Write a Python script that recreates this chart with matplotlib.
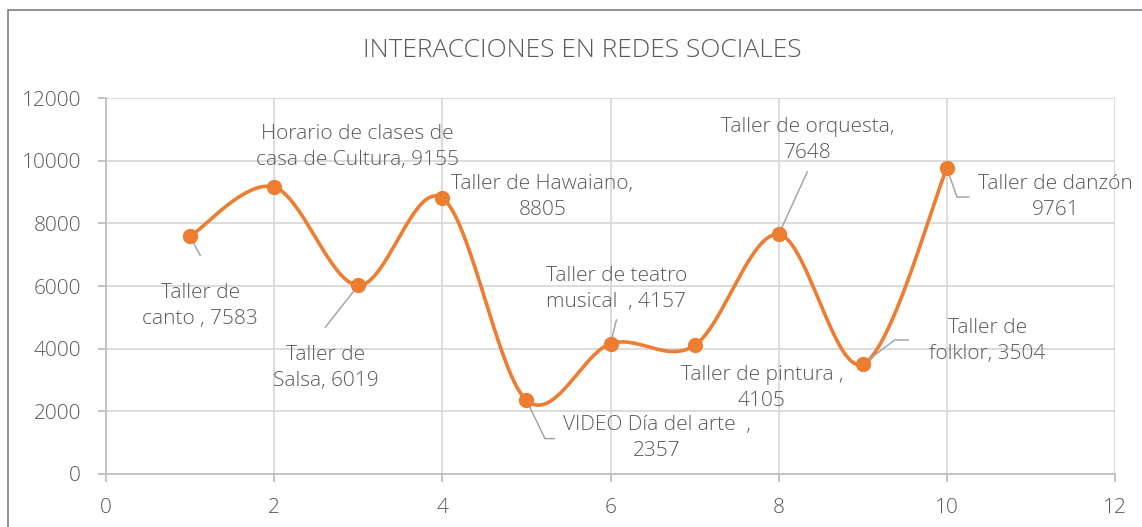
"""
INTERACCIONES EN REDES SOCIALES - Excel-style smoothed scatter with data labels.
"""

import matplotlib.pyplot as plt
import numpy as np
from matplotlib.patches import Rectangle

# data
x_vals = [1, 2, 3, 4, 5, 6, 7, 8, 9, 10]
interacciones = [7583, 9155, 6019, 8805, 2357, 4157, 4105, 7648, 3504, 9761]
etiquetas = [
    "Taller de\ncanto , 7583",
    "Horario de clases de\ncasa de Cultura, 9155",
    "Taller de\nSalsa, 6019",
    "Taller de Hawaiano,\n8805",
    "VIDEO Día del arte  ,\n2357",
    "Taller de teatro\nmusical  , 4157",
    "Taller de pintura ,\n4105",
    "Taller de orquesta,\n7648",
    "Taller de\nfolklor, 3504",
    "Taller de danzón\n9761",
]

# label centres (data coords) and leader-line bends
label_pos = [(1.12, 5360), (2.99, 10440), (2.61, 3380), (5.19, 8840), (6.55, 1150),
             (6.07, 5900), (7.80, 2745), (8.34, 10660), (10.48, 4245), (11.29, 8840)]
leaders = {
    0: [(1.12, 6980)],
    2: [(2.61, 4690)],
    4: [(5.22, 1130), (5.33, 1130)],
    5: [(6.07, 4915)],
    7: [(8.34, 9640)],
    8: [(9.38, 4277), (9.54, 4277)],
    9: [(10.12, 8840), (10.26, 8840)],
}

ORANGE = "#ED7D31"
TXT = "#595959"
GRID = "#d9d9d9"
FONT = ["Open Sans", "DejaVu Sans"]

plt.rcParams["font.family"] = FONT
plt.rcParams["font.weight"] = 300


def smooth(xs, ys, n=40):
    """Catmull-Rom style curve through the points (like Excel's smoothed line)."""
    xs = np.asarray(xs, float)
    ys = np.asarray(ys, float)
    px = np.concatenate([[xs[0]], xs, [xs[-1]]])
    py = np.concatenate([[ys[0]], ys, [ys[-1]]])
    out_x, out_y = [], []
    t = np.linspace(0, 1, n)
    for i in range(1, len(px) - 2):
        p0, p1, p2, p3 = (np.array([px[j], py[j]]) for j in (i - 1, i, i + 1, i + 2))
        c1 = p1 + (p2 - p0) / 6.0
        c2 = p2 - (p3 - p1) / 6.0
        b = ((1 - t) ** 3)[:, None] * p1 + (3 * (1 - t) ** 2 * t)[:, None] * c1 \
            + (3 * (1 - t) * t ** 2)[:, None] * c2 + (t ** 3)[:, None] * p2
        out_x.extend(b[:, 0])
        out_y.extend(b[:, 1])
    return np.array(out_x), np.array(out_y)


fig = plt.figure(figsize=(11.42, 5.27), dpi=100)
ax = fig.add_axes([0.0928, 0.1006, 0.8836, 0.7134])

# outer chart border (left/top visible)
fig.patches.append(Rectangle((8 / 1142, -0.05), 1.2, (527 - 10) / 527 + 0.05,
                             transform=fig.transFigure, fill=False,
                             edgecolor="#7f7f7f", lw=1.2))

sx, sy = smooth(x_vals, interacciones)
ax.plot(sx, sy, color=ORANGE, lw=2.6, zorder=3, solid_capstyle="round")
ax.plot(x_vals, interacciones, "o", color=ORANGE, ms=10, zorder=4)

for i, (lbl, (tx, ty)) in enumerate(zip(etiquetas, label_pos)):
    ax.text(tx, ty, lbl, ha="center", va="center", fontsize=15, color=TXT,
            linespacing=1.4, zorder=5)
    if i in leaders:
        pts = [(x_vals[i], interacciones[i])] + leaders[i]
        lx, ly = zip(*pts)
        ax.plot(lx, ly, color="#a6a6a6", lw=1.1, zorder=3.5)

ax.set_xlim(0, 12)
ax.set_ylim(0, 12000)
ax.set_xticks(np.arange(0, 13, 2))
ax.set_yticks(np.arange(0, 12001, 2000))
ax.grid(True, color=GRID, lw=1.3)
ax.set_axisbelow(True)
for s in ("top", "right"):
    ax.spines[s].set_visible(False)
for s in ("left", "bottom"):
    ax.spines[s].set_color("#bfbfbf")
    ax.spines[s].set_linewidth(1.3)
ax.tick_params(colors="#bfbfbf", labelcolor=TXT, labelsize=15, length=6,
               width=1.3, direction="out")
ax.tick_params(axis="y", pad=12)
ax.tick_params(axis="x", pad=11)

fig.text(0.51, 0.905, "INTERACCIONES EN REDES SOCIALES", ha="center", va="center",
         fontsize=19, color=TXT)

fig.savefig("out.png", dpi=100)
